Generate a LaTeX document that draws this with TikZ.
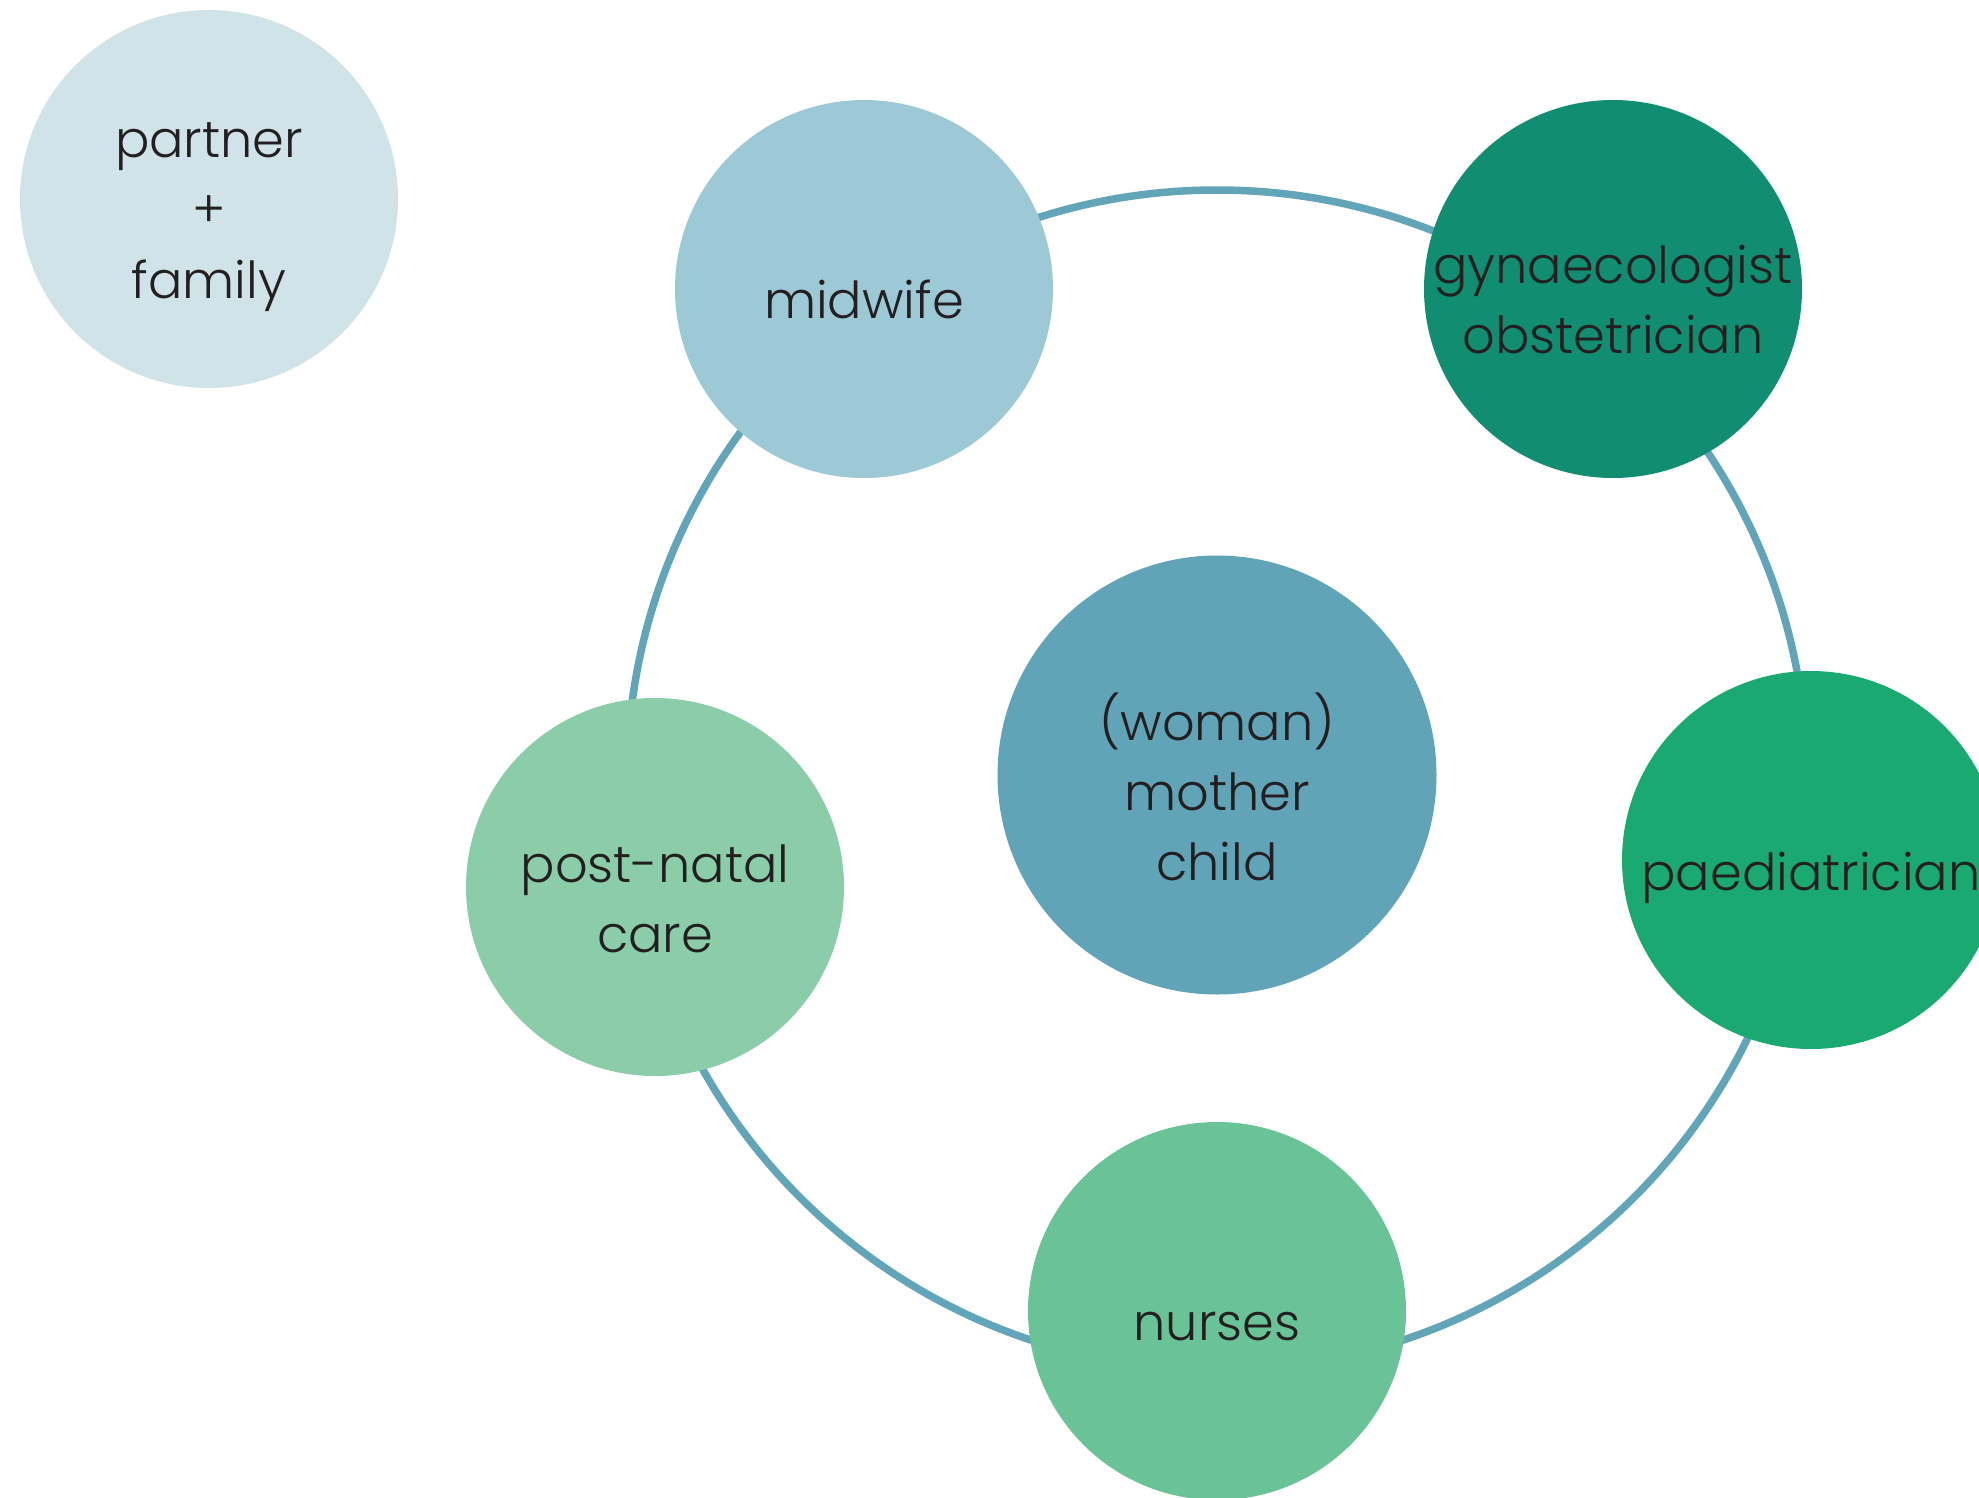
\documentclass[tikz,border=0pt]{standalone}
\usepackage{fontspec}
\setmainfont{Poppins}[UprightFont={* Light}]
\definecolor{txt}{HTML}{231F20}
\definecolor{ringc}{HTML}{62A4B8}
\definecolor{cpartner}{HTML}{D0E3E9}
\definecolor{cmidwife}{HTML}{9DC8D5}
\definecolor{cgyn}{HTML}{118D72}
\definecolor{cpaed}{HTML}{1BA972}
\definecolor{cnurse}{HTML}{6AC396}
\definecolor{cpost}{HTML}{8ACDA8}
\definecolor{ccenter}{HTML}{61A3B7}
\begin{document}
\begin{tikzpicture}[x=1pt,y=-1pt,
  bubble/.style={circle, draw=none, minimum size=378pt, inner sep=0pt, outer sep=0pt},
  lbl/.style={anchor=base, text=txt, font=\fontsize{51}{60}\selectfont, inner sep=0pt}]
\useasboundingbox (0,0) rectangle (1979,1497);
\fill[white] (0,0) rectangle (1979,1497);
\coordinate (rc) at (1217,780);
\draw[ringc, line width=7.5pt] (rc) circle[radius=590];
% circles
\node[bubble, fill=cpartner] (partner) at (209,199) {};
\node[bubble, fill=cmidwife] (midwife) at (864,289) {};
\node[bubble, fill=cgyn] (gyn) at (1613,289) {};
\node[bubble, fill=cpaed] (paed) at (1811,860) {};
\node[bubble, fill=cnurse] (nurses) at (1217,1311) {};
\node[bubble, fill=cpost] (post) at (655,887) {};
\node[bubble, fill=ccenter, minimum size=439pt] (center) at (1217,775) {};
% labels
\node[lbl] (partner1) at (209,157) {partner};
\node[lbl] (partner2) at (209,227) {+};
\node[lbl] (partner3) at (209,298) {family};
\node[lbl] (midwife1) at (864,318) {midwife};
\node[lbl] (gyn1) at (1613,283) {gynaecologist};
\node[lbl] (gyn2) at (1613,353) {obstetrician};
\node[lbl] (paed1) at (1811,890) {paediatrician};
\node[lbl] (nurses1) at (1217,1340) {nurses};
\node[lbl] (post1) at (655,882) {post-natal};
\node[lbl] (post2) at (655,952) {care};
\node[lbl] (center1) at (1217,740) {(woman)};
\node[lbl] (center2) at (1217,810) {mother};
\node[lbl] (center3) at (1217,880) {child};
\end{tikzpicture}
\end{document}
